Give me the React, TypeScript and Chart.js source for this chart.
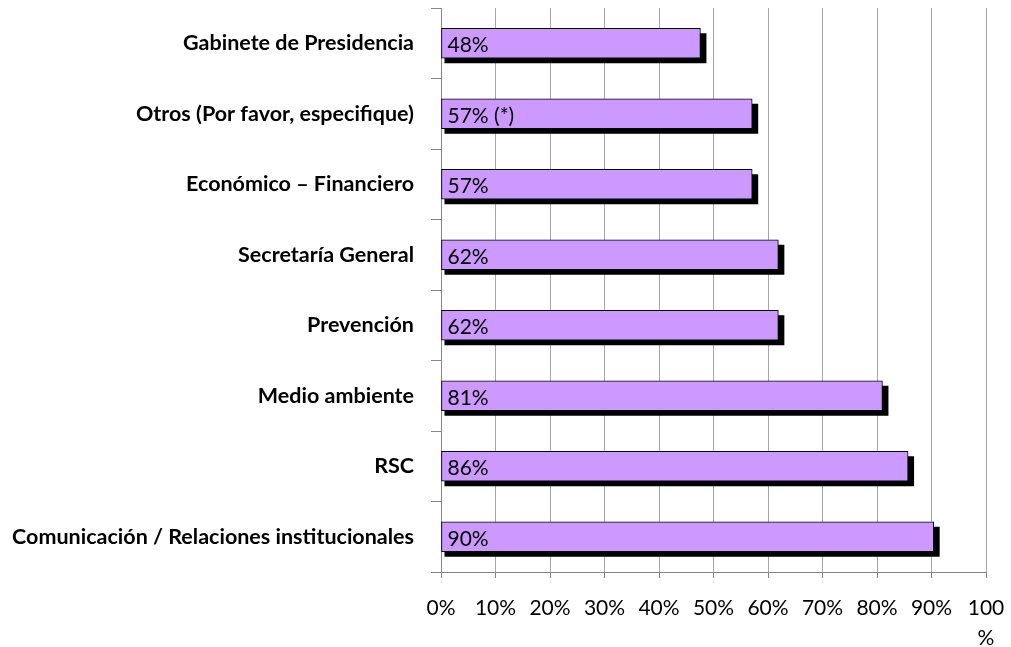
import React, { useEffect, useRef } from "react";
import { Chart, registerables } from "chart.js";

Chart.register(...registerables);

const categories = [
  "Gabinete de Presidencia",
  "Otros (Por favor, especifique)",
  "Económico – Financiero",
  "Secretaría General",
  "Prevención",
  "Medio ambiente",
  "RSC",
  "Comunicación / Relaciones institucionales",
];
const values = [47.6, 57.1, 57.1, 61.9, 61.9, 81.0, 85.7, 90.4];
const labelNotes = ["", " (*)", "", "", "", "", "", ""];
const xTickValues = [0, 10, 20, 30, 40, 50, 60, 70, 80, 90, 100];

const FONT = "Lato, 'Open Sans', sans-serif";

const shadowAndLabels = {
  id: "shadowAndLabels",
  beforeDatasetsDraw(chart: any) {
    const ctx = chart.ctx;
    const meta = chart.getDatasetMeta(0);
    ctx.save();
    ctx.fillStyle = "#000000";
    meta.data.forEach((bar: any) => {
      const left = Math.min(bar.base, bar.x);
      const right = Math.max(bar.base, bar.x);
      const top = bar.y - bar.height / 2;
      const bottom = bar.y + bar.height / 2;
      ctx.fillRect(left + 3, top + 5, right - left + 3, bottom - top);
    });
    ctx.restore();
  },
  afterDatasetsDraw(chart: any) {
    const ctx = chart.ctx;
    const meta = chart.getDatasetMeta(0);
    ctx.save();
    ctx.fillStyle = "#000000";
    ctx.font = `21px ${FONT}`;
    ctx.textAlign = "left";
    ctx.textBaseline = "middle";
    meta.data.forEach((bar: any, i: number) => {
      const left = Math.min(bar.base, bar.x);
      const txt = Math.round(values[i]) + "%" + labelNotes[i];
      ctx.fillText(txt, left + 6, bar.y + 2);
    });
    ctx.restore();
  },
};

export default function App() {
  const ref = useRef<HTMLCanvasElement | null>(null);
  useEffect(() => {
    document.body.style.margin = "0";
    const canvas = ref.current!;
    const chart = new Chart(canvas, {
      type: "bar",
      data: {
        labels: categories,
        datasets: [
          {
            data: values,
            backgroundColor: "#CC99FF",
            borderColor: "#000000",
            borderWidth: 1,
            borderSkipped: false,
            barThickness: 30,
          },
        ],
      },
      options: {
        indexAxis: "y",
        responsive: false,
        animation: false,
        layout: { padding: { top: 8, right: 25, left: 0, bottom: 0 } },
        plugins: {
          legend: { display: false },
          tooltip: { enabled: false },
          title: { display: false },
        },
        scales: {
          x: {
            type: "linear",
            min: 0,
            max: 100,
            afterBuildTicks: (scale: any) => {
              scale.ticks = xTickValues.map((v) => ({ value: v }));
            },
            afterFit: (scale: any) => {
              scale.height = 75;
              scale.paddingLeft = 0;
              scale.paddingRight = 0;
              scale.paddingTop = 0;
              scale.paddingBottom = 0;
            },
            grid: {
              color: "#a6a6a6",
              tickColor: "#868686",
              tickLength: 6,
              drawOnChartArea: true,
            },
            border: { color: "#868686" },
            ticks: {
              color: "#000000",
              font: { family: FONT, size: 21, lineHeight: 1.4 },
              padding: 16,
              maxRotation: 0,
              autoSkip: false,
              callback: (v: any) => (v === 100 ? ["100", "%"] : v + "%"),
            },
          },
          y: {
            afterFit: (scale: any) => {
              scale.width = 441;
              scale.paddingLeft = 0;
              scale.paddingRight = 0;
              scale.paddingTop = 0;
              scale.paddingBottom = 0;
            },
            grid: {
              drawOnChartArea: false,
              tickColor: "#868686",
              tickLength: 10,
            },
            border: { color: "#868686" },
            ticks: {
              color: "#000000",
              font: { family: FONT, size: 21.5, weight: "bold" },
              padding: 17,
              autoSkip: false,
            },
          },
        },
      },
      plugins: [shadowAndLabels],
    });
    return () => chart.destroy();
  }, []);
  return (
    <div style={{ width: 1011, height: 647 }}>
      <canvas ref={ref} width={1011} height={647} style={{ display: "block" }} />
    </div>
  );
}
